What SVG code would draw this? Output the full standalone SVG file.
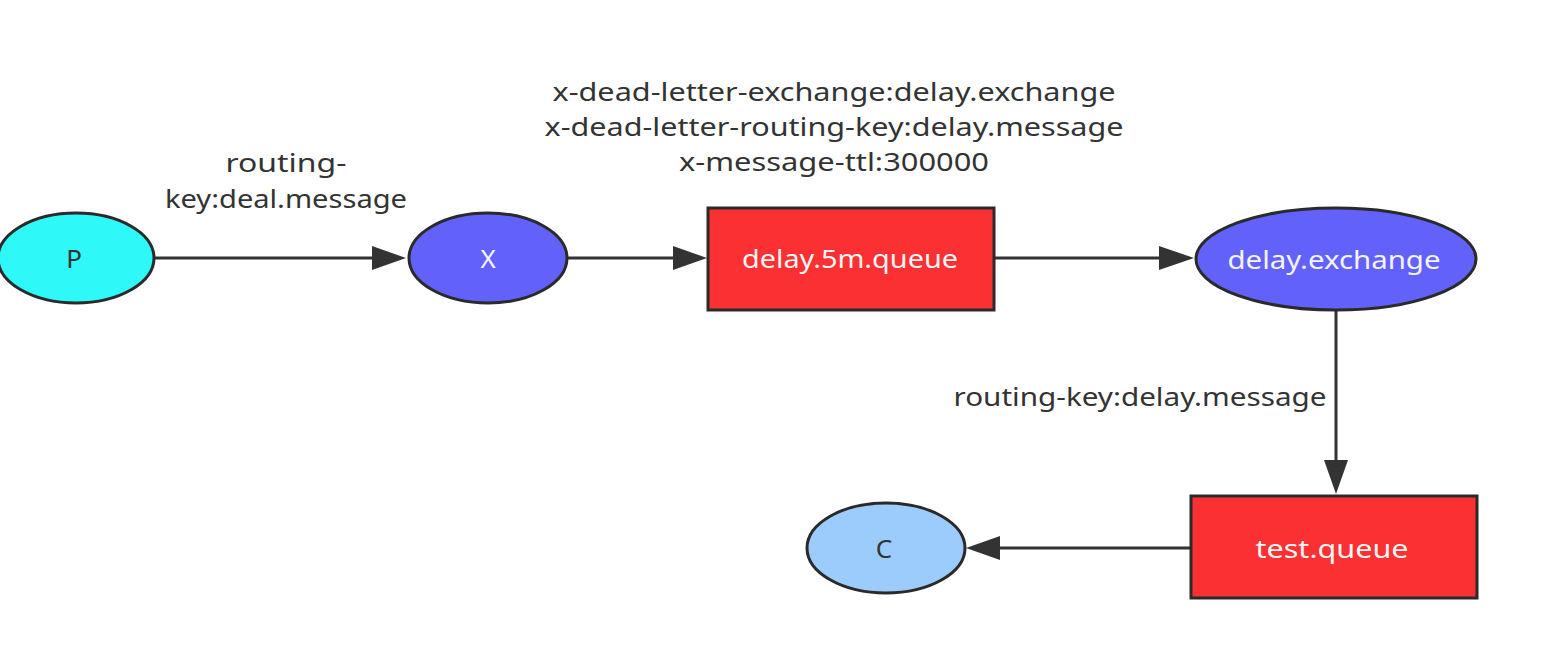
<svg xmlns="http://www.w3.org/2000/svg" width="1566" height="654" viewBox="0 0 1566 654">
<style>
.n{stroke:#2a2a2a;stroke-width:3}
.lbl{font-family:"Noto Sans","Open Sans",sans-serif;font-size:26px;fill:#333;text-anchor:middle}
.nt{font-family:"Noto Sans","Open Sans",sans-serif;font-size:26px;fill:#f4f4f4;text-anchor:middle}
.dk{font-family:"Noto Sans","Open Sans",sans-serif;font-size:26px;fill:#333;text-anchor:middle}
.ln{stroke:#333;stroke-width:3;fill:none}
.hd{fill:#333}
</style>
<rect width="1566" height="654" fill="#fff"/>
<g id="connectors">
<line class="ln" x1="155" y1="258" x2="380" y2="258"/>
<path class="hd" d="M372,246 L406,258 L372,270 z"/>
<line class="ln" x1="568" y1="258" x2="680" y2="258"/>
<path class="hd" d="M673,246 L707,258 L673,270 z"/>
<line class="ln" x1="995" y1="258" x2="1165" y2="258"/>
<path class="hd" d="M1159,246 L1194,258 L1159,270 z"/>
<line class="ln" x1="1336" y1="310" x2="1336" y2="465"/>
<path class="hd" d="M1324,460 L1336,494 L1348,460 z"/>
<line class="ln" x1="1191" y1="548" x2="995" y2="548"/>
<path class="hd" d="M1000,536 L966,548 L1000,560 z"/>
<text class="lbl" x="286" y="172" textLength="121" lengthAdjust="spacingAndGlyphs">routing-</text>
<text class="lbl" x="286" y="208" textLength="242" lengthAdjust="spacingAndGlyphs">key:deal.message</text>
<text class="lbl" x="834" y="101" textLength="563" lengthAdjust="spacingAndGlyphs">x-dead-letter-exchange:delay.exchange</text>
<text class="lbl" x="834" y="136" textLength="579" lengthAdjust="spacingAndGlyphs">x-dead-letter-routing-key:delay.message</text>
<text class="lbl" x="834" y="171" textLength="310" lengthAdjust="spacingAndGlyphs">x-message-ttl:300000</text>
<text class="lbl" x="1140" y="406" textLength="373" lengthAdjust="spacingAndGlyphs">routing-key:delay.message</text>
</g>
<g id="P">
<ellipse class="n" cx="76" cy="258" rx="78" ry="45" fill="#2ef8f8"/>
<text class="dk" x="74" y="268">P</text>
</g>
<g id="X">
<ellipse class="n" cx="488" cy="258" rx="79" ry="45" fill="#6262fb"/>
<text class="nt" x="488" y="268">X</text>
</g>
<g id="delay5m">
<rect class="n" x="708" y="208" width="286" height="102" fill="#fb3032"/>
<text class="nt" x="850" y="268" textLength="216" lengthAdjust="spacingAndGlyphs">delay.5m.queue</text>
</g>
<g id="delayexchange">
<ellipse class="n" cx="1336" cy="259" rx="140" ry="51" fill="#6262fb"/>
<text class="nt" x="1334" y="269" textLength="213" lengthAdjust="spacingAndGlyphs">delay.exchange</text>
</g>
<g id="testqueue">
<rect class="n" x="1191" y="496" width="286" height="102" fill="#fb3032"/>
<text class="nt" x="1332" y="558" textLength="153" lengthAdjust="spacingAndGlyphs">test.queue</text>
</g>
<g id="C">
<ellipse class="n" cx="886" cy="548" rx="79" ry="45" fill="#9cccfb"/>
<text class="dk" x="884" y="558">C</text>
</g>
</svg>
